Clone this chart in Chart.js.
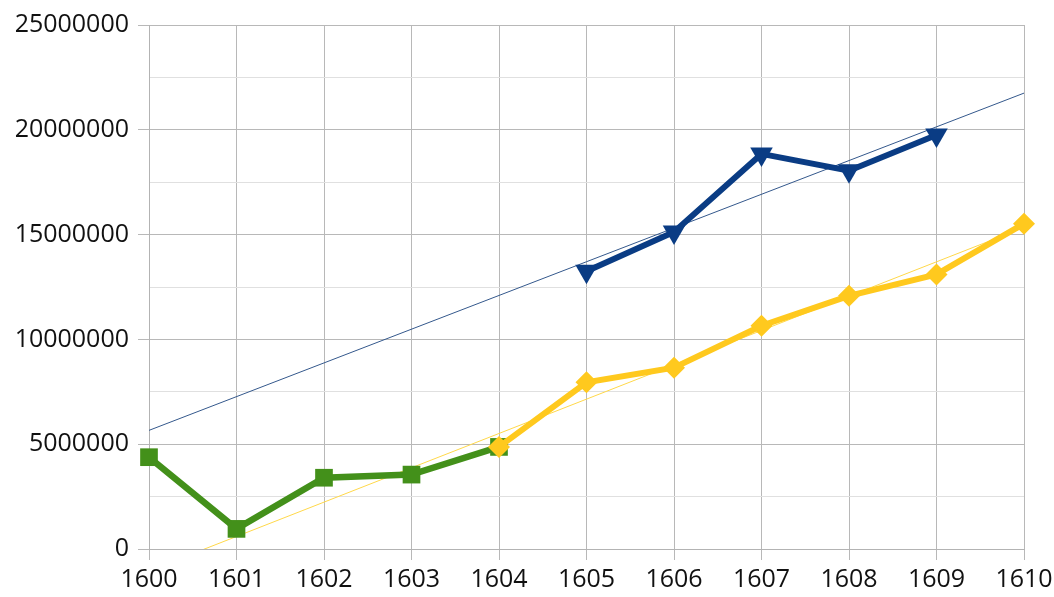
<!DOCTYPE html>
<html>
<head>
<meta charset="utf-8">
<script src="https://cdn.jsdelivr.net/npm/chart.js@4/dist/chart.umd.min.js"></script>
<style>
html,body{margin:0;padding:0;background:#fff;}
#wrap{width:1054px;height:597px;position:relative;}
</style>
</head>
<body>
<div id="wrap"><canvas id="c" width="1054" height="597"></canvas></div>
<script>
// Data
const greenYears = [1600, 1601, 1602, 1603, 1604];
const greenValues = [4380000, 960000, 3400000, 3550000, 4870000];

const yellowYears = [1604, 1605, 1606, 1607, 1608, 1609, 1610];
const yellowValues = [4870000, 7950000, 8650000, 10650000, 12080000, 13100000, 15520000];

const blueYears = [1605, 1606, 1607, 1608, 1609];
const blueValues = [13250000, 15130000, 18850000, 18050000, 19750000];

// Trend lines (endpoints)
const trendYears = [1600, 1610];
const blueTrendValues = [5660000, 21750000];
const yellowTrendValues = [-1040000, 15340000];

const yMin = 0, yMax = 25000000, yMajor = 5000000, yMinor = 2500000;
const xMin = 1600, xMax = 1610;

const pts = (xs, ys) => xs.map((x, i) => ({x: x, y: ys[i]}));

const GREEN = '#43901a';
const YELLOW = '#ffc91e';
const BLUE = '#0a3c84';

new Chart(document.getElementById('c'), {
  type: 'line',
  data: {
    datasets: [
      {
        data: pts(trendYears, blueTrendValues),
        borderColor: '#34588c', borderWidth: 1, pointRadius: 0, tension: 0, order: 5
      },
      {
        data: pts(trendYears, yellowTrendValues),
        borderColor: '#ffd84a', borderWidth: 1, pointRadius: 0, tension: 0, order: 5
      },
      {
        data: pts(greenYears, greenValues), clip: false,
        borderColor: GREEN, backgroundColor: GREEN, borderWidth: 6.5,
        pointStyle: 'rect', pointRadius: 12.5, pointHoverRadius: 12.5, pointBorderWidth: 0, order: 3
      },
      {
        data: pts(yellowYears, yellowValues), clip: false,
        borderColor: YELLOW, backgroundColor: YELLOW, borderWidth: 6,
        pointStyle: 'rectRot', pointRadius: 11, pointHoverRadius: 11, pointBorderWidth: 0, order: 2
      },
      {
        data: pts(blueYears, blueValues), clip: false,
        borderColor: BLUE, backgroundColor: BLUE, borderWidth: 6,
        pointStyle: 'triangle', pointRotation: 180, pointRadius: 13, pointHoverRadius: 13, pointBorderWidth: 0, order: 1
      }
    ]
  },
  options: {
    responsive: false,
    animation: false,
    devicePixelRatio: 1,
    layout: {padding: {top: 25, right: 30, left: 0, bottom: 0}},
    plugins: {legend: {display: false}, tooltip: {enabled: false}},
    scales: {
      x: {
        type: 'linear', min: xMin, max: xMax,
        afterFit: s => { s.height = 48; s.paddingRight = 0; s.paddingLeft = 0; },
        ticks: {stepSize: 1, color: '#111', font: {family: 'Open Sans', size: 25}, padding: 5,
                callback: v => String(v), maxRotation: 0, autoSkip: false},
        grid: {color: '#b8b8b8', lineWidth: 1, tickLength: 11, tickColor: '#b8b8b8'},
        border: {color: '#b3b3b3', width: 1}
      },
      y: {
        min: yMin, max: yMax,
        afterFit: s => { s.width = 149; s.paddingTop = 0; s.paddingBottom = 0; },
        ticks: {stepSize: yMinor, color: '#111', font: {family: 'Open Sans', size: 25}, padding: 9,
                callback: v => (v % yMajor === 0 ? String(v) : '')},
        grid: {
          color: c => (c.tick && c.tick.value % yMajor === 0 ? '#b8b8b8' : '#e0e0e0'),
          lineWidth: 1, tickLength: 11,
          tickColor: c => (c.tick && c.tick.value % yMajor === 0 ? '#b8b8b8' : 'rgba(0,0,0,0)')
        },
        border: {color: '#b3b3b3', width: 1}
      }
    }
  }
});
</script>
</body>
</html>
